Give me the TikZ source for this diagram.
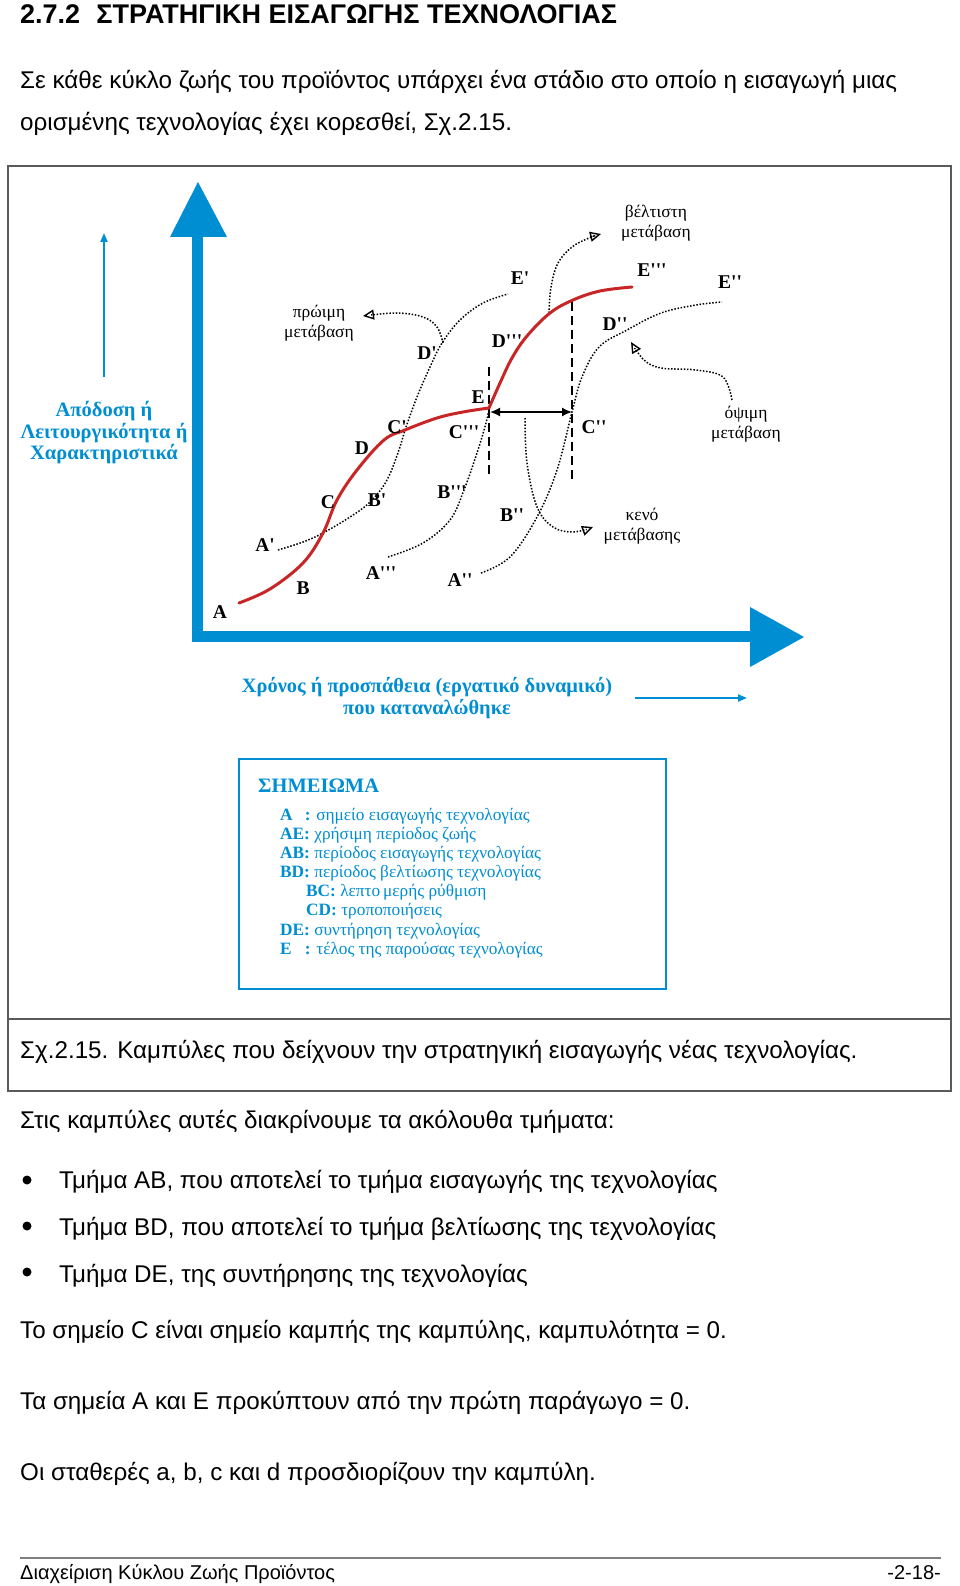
\documentclass[tikz,border=0pt]{standalone}
\usepackage{fontspec}
\setmainfont{Liberation Sans}
\newfontfamily\serif{Liberation Serif}[Ligatures=TeXOff]
\usetikzlibrary{arrows.meta}
\definecolor{dblue}{RGB}{0,142,211}
\definecolor{dred}{RGB}{200,38,38}
\definecolor{framegray}{RGB}{90,90,90}
\newcommand\fsz[2]{\fontsize{#1pt}{#2pt}\selectfont}
\newcommand\lkey[1]{\makebox[1.42em][l]{\bfseries #1}\textbf{:} }
\begin{document}
\begin{tikzpicture}[x=1pt,y=-1pt,
  body/.style={anchor=base west, inner sep=0pt, font=\fsz{24.2}{28}},
  lbl/.style={font=\serif\bfseries\fsz{19.5}{21}, inner sep=0pt},
  note/.style={font=\serif\fsz{17.5}{20.5}, align=center, inner sep=0pt},
  leg/.style={anchor=base west, inner sep=0pt, font=\serif\fsz{17.3}{19}, text=dblue},
  dots/.style={line width=1.5pt, dash pattern=on 1.5pt off 1.7pt},
  opentip/.style={-{Triangle[open,length=11pt,width=10pt,line width=1.4pt]}},
  redc/.style={dred, line width=3pt},
  vdash/.style={line width=2pt, dash pattern=on 9pt off 5pt}]
\useasboundingbox (0,0) rectangle (960,1586);
\fill[white] (0,0) rectangle (960,1586);

% header and intro
\node[body, font=\bfseries\fsz{27}{30}] (hdr) at (20,24) {2.7.2\hspace{0.6em}ΣΤΡΑΤΗΓΙΚΗ ΕΙΣΑΓΩΓΗΣ ΤΕΧΝΟΛΟΓΙΑΣ};
\node[body] (p1) at (20,89) {Σε κάθε κύκλο ζωής του προϊόντος υπάρχει ένα στάδιο στο οποίο η εισαγωγή μιας};
\node[body] (p2) at (20,131) {ορισμένης τεχνολογίας έχει κορεσθεί, Σχ.2.15.};

% figure frame
\draw[framegray, line width=1.5pt] (8,166) rectangle (951,1091);
\draw[framegray, line width=1.5pt] (8,1019) -- (951,1019);

% axes
\fill[dblue] (192,237) rectangle (203,642);
\fill[dblue] (170,237) -- (227,237) -- (198,182) -- cycle;
\fill[dblue] (192,631) rectangle (750,642);
\fill[dblue] (750,607) -- (750,667) -- (804,637) -- cycle;
\coordinate (ya1) at (104,377); \coordinate (ya2) at (104,233);
\draw[dblue, line width=2pt, -{Triangle[length=9pt,width=7pt]}] (ya1) -- (ya2);
\coordinate (xa1) at (635,698); \coordinate (xa2) at (747,698);
\draw[dblue, line width=2pt, -{Triangle[length=9pt,width=7pt]}] (xa1) -- (xa2);
\node[font=\serif\bfseries\fsz{20.5}{21.5}, text=dblue, align=center] (ylab) at (104,433) {Απόδοση ή\\Λειτουργικότητα ή\\Χαρακτηριστικά};
\node[font=\serif\bfseries\fsz{20.4}{22}, text=dblue, align=center] (xlab) at (427,698) {Χρόνος ή προσπάθεια (εργατικό δυναμικό)\\που καταναλώθηκε};

% dashed verticals and gap arrow
\coordinate (d1t) at (489,367); \coordinate (d1b) at (489,478);
\coordinate (d2t) at (572,302); \coordinate (d2b) at (572,483);
\draw[vdash] (d1t) -- (d1b);
\draw[vdash] (d2t) -- (d2b);
\coordinate (g1) at (490,412); \coordinate (g2) at (572,412);
\draw[line width=1.6pt, {Latex[length=10pt,width=9pt]}-{Latex[length=10pt,width=9pt]}] (g1) -- (g2);

% dotted curves
\draw[dots] plot[smooth, tension=0.6] coordinates {(278,550) (303,542) (323,533) (350,517) (370,502) (387,480) (400,447) (405,430) (417,397) (430,367) (442,343) (460,320) (483,303) (508,294)};
\draw[dots] plot[smooth, tension=0.6] coordinates {(388,557) (423,543) (450,520) (464,490) (477,453) (486,423) (489,409)};
\draw[dots] plot[smooth, tension=0.6] coordinates {(481,573) (510,557) (537,517) (557,470) (572,412) (582,377) (599,347) (627,330) (661,313) (696,305) (722,302)};

% transition arrows
\draw[dots, opentip] plot[smooth, tension=0.6] coordinates {(443,343) (437,327) (423,317) (397,313) (363,316)};
\draw[dots, opentip] plot[smooth, tension=0.6] coordinates {(549,313) (551,287) (558,263) (572,247) (589,238) (601,234)};
\draw[dots, opentip] plot[smooth, tension=0.6] coordinates {(732,400) (723,377) (696,370) (661,368) (644,360) (631,342)};
\draw[dots, opentip] plot[smooth, tension=0.6] coordinates {(525,418) (527,463) (537,507) (553,527) (573,532) (593,527)};

% red curve
\draw[redc, line cap=round] plot[smooth, tension=0.6] coordinates {(239,603) (270,589) (303,563) (323,533) (337,500) (357,470) (384,440) (405,430) (437,418) (463,412) (489,408)};
\draw[redc, line cap=round] plot[smooth, tension=0.6] coordinates {(489,408) (500,383) (512,358) (527,336) (550,313) (573,300) (600,291) (632,287)};

% point labels
\node[lbl] (lA) at (220,612) {A};
\node[lbl] (lB) at (303,588) {B};
\node[lbl] (lC) at (328,502) {C};
\node[lbl] (lD) at (362,448) {D};
\node[lbl] (lE) at (478,397) {E};
\node[lbl] (lA1) at (265,545) {A'};
\node[lbl] (lB1) at (377,500) {B'};
\node[lbl] (lC1) at (397,427) {C'};
\node[lbl] (lD1) at (427,353) {D'};
\node[lbl] (lE1) at (520,278) {E'};
\node[lbl] (lA2) at (460,580) {A''};
\node[lbl] (lB2) at (512,515) {B''};
\node[lbl] (lC2) at (594,427) {C''};
\node[lbl] (lD2) at (615,324) {D''};
\node[lbl] (lE2) at (730,282) {E''};
\node[lbl] (lA3) at (381,573) {A'''};
\node[lbl] (lB3) at (452,492) {B'''};
\node[lbl] (lC3) at (464,432) {C'''};
\node[lbl] (lD3) at (507,341) {D'''};
\node[lbl] (lE3) at (652,270) {E'''};

% transition notes
\node[note] (nearly) at (319,323) {πρώιμη\\μετάβαση};
\node[note] (nbest) at (656,223) {βέλτιστη\\μετάβαση};
\node[note] (nlate) at (746,424) {όψιμη\\μετάβαση};
\node[note] (ngap) at (642,526) {κενό\\μετάβασης};

% legend
\draw[dblue, line width=2.5pt] (239,759) rectangle (666,989);
\node[anchor=base west, inner sep=0pt, font=\serif\bfseries\fsz{20.5}{24}, text=dblue] (lgt) at (258,792) {ΣΗΜΕΙΩΜΑ};
\node[leg] (lg1) at (280,820) {\lkey{A}σημείο εισαγωγής τεχνολογίας};
\node[leg] (lg2) at (280,839.2) {\textbf{AE:} χρήσιμη περίοδος ζωής};
\node[leg] (lg3) at (280,858.3) {\textbf{AB:} περίοδος εισαγωγής τεχνολογίας};
\node[leg] (lg4) at (280,877.5) {\textbf{BD:} περίοδος βελτίωσης τεχνολογίας};
\node[leg] (lg5) at (306,896.7) {\textbf{BC:} λεπτο\,μερής ρύθμιση};
\node[leg] (lg6) at (306,915.8) {\textbf{CD:} τροποποιήσεις};
\node[leg] (lg7) at (280,935) {\textbf{DE:} συντήρηση τεχνολογίας};
\node[leg] (lg8) at (280,954.2) {\lkey{E}τέλος της παρούσας τεχνολογίας};

% caption and body text
\node[body] (cap) at (20,1058) {Σχ.2.15. Καμπύλες που δείχνουν την στρατηγική εισαγωγής νέας τεχνολογίας.};
\node[body] (t1) at (20,1128) {Στις καμπύλες αυτές διακρίνουμε τα ακόλουθα τμήματα:};
\fill (27,1180) circle (4.5);
\node[body] (b1) at (59,1188) {Τμήμα AB, που αποτελεί το τμήμα εισαγωγής της τεχνολογίας};
\fill (27,1226) circle (4.5);
\node[body] (b2) at (59,1235) {Τμήμα BD, που αποτελεί το τμήμα βελτίωσης της τεχνολογίας};
\fill (27,1272) circle (4.5);
\node[body] (b3) at (59,1282) {Τμήμα DE, της συντήρησης της τεχνολογίας};
\node[body] (t2) at (20,1338) {Το σημείο C είναι σημείο καμπής της καμπύλης, καμπυλότητα = 0.};
\node[body] (t3) at (20,1409) {Τα σημεία A και E προκύπτουν από την πρώτη παράγωγο = 0.};
\node[body] (t4) at (20,1480) {Οι σταθερές a, b, c και d προσδιορίζουν την καμπύλη.};

% footer
\draw[gray, line width=2pt] (20,1558) -- (941,1558);
\node[body, font=\fsz{20}{22}] (ft) at (20,1579) {Διαχείριση Κύκλου Ζωής Προϊόντος};
\node[anchor=base east, inner sep=0pt, font=\fsz{20}{22}] (pg) at (941,1579) {-2-18-};
\end{tikzpicture}
\end{document}
